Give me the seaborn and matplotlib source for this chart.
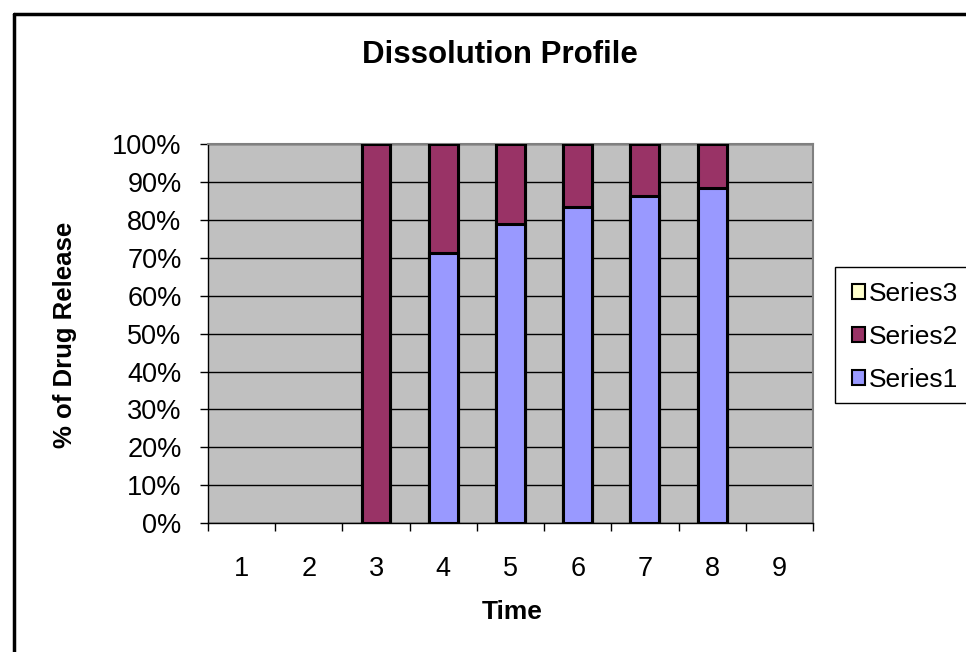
import seaborn as sns
import matplotlib.pyplot as plt
import pandas as pd
from matplotlib.patches import Patch, Rectangle
from matplotlib.lines import Line2D
from matplotlib.ticker import PercentFormatter, FixedLocator

# data (share of each time point)
times = ["1", "2", "3", "4", "5", "6", "7", "8", "9"]
series1 = [0, 0, 0, 0.714, 0.791, 0.835, 0.863, 0.885, 0]
series2 = [0, 0, 1.0, 0.286, 0.209, 0.165, 0.137, 0.115, 0]
series3 = [0, 0, 0, 0, 0, 0, 0, 0, 0]
series_names = ["Series1", "Series2", "Series3"]
colors = ["#9999FF", "#993366", "#FFFFCC"]

sns.set_theme(style="white")
plt.rcParams["font.family"] = ["Liberation Sans", "DejaVu Sans"]
plt.rcParams["text.color"] = "black"
plt.rcParams["axes.labelcolor"] = "black"
plt.rcParams["xtick.color"] = "black"
plt.rcParams["ytick.color"] = "black"

df = pd.DataFrame({"time": times, "s1": series1, "s2": series2, "s3": series3})
df["top3"] = df["s1"] + df["s2"] + df["s3"]
df["top2"] = df["s1"] + df["s2"]

fig = plt.figure(figsize=(9.66, 6.52), dpi=100)
ax = fig.add_axes([0.2153, 0.1979, 0.6263, 0.5805])
ax.set_facecolor("#C0C0C0")

# stacked bars: draw cumulative totals back to front
for col, c in [("top3", colors[2]), ("top2", colors[1]), ("s1", colors[0])]:
    sub = df[df[col] > 0]
    sns.barplot(data=sub, x="time", y=col, order=times, color=c, width=0.43,
                edgecolor="black", linewidth=2.2, saturation=1, ax=ax, zorder=3)

ax.set_ylim(0, 1)
ax.set_xlim(-0.5, 8.5)
ax.yaxis.set_major_locator(FixedLocator([i / 10 for i in range(11)]))
ax.yaxis.set_major_formatter(PercentFormatter(1.0, decimals=0))
ax.grid(axis="y", color="black", linewidth=1, zorder=1)
ax.set_axisbelow(True)

ax.xaxis.set_minor_locator(FixedLocator([i - 0.5 for i in range(10)]))
ax.tick_params(axis="x", which="major", length=0, pad=24, labelsize=19.5)
ax.tick_params(axis="x", which="minor", bottom=True, length=6, width=1, direction="out")
ax.tick_params(axis="y", which="major", left=True, length=6, width=1,
               direction="out", labelsize=19.5, pad=13)

for side in ["left", "bottom"]:
    ax.spines[side].set_color("black")
    ax.spines[side].set_linewidth(1)
for side in ["top", "right"]:
    ax.spines[side].set_color("#808080")
    ax.spines[side].set_linewidth(1.5)

ax.set_xlabel("Time", fontsize=19, fontweight="bold")
ax.xaxis.set_label_coords(0.502, -0.203)
ax.set_ylabel("% of Drug Release", fontsize=18.5, fontweight="bold")
ax.yaxis.set_label_coords(-0.2165, 0.497)
fig.text(0.5176, 0.916, "Dissolution Profile", fontsize=22.5, fontweight="bold",
         ha="center", va="center")

# legend box runs off the right edge, as in the original
fig.add_artist(Rectangle((0.8644, 0.3819), 0.2, 0.2086, transform=fig.transFigure,
                         facecolor="white", edgecolor="black", linewidth=1))
handles = [Patch(facecolor=colors[i], edgecolor="black", linewidth=1.5, label=series_names[i])
           for i in [2, 1, 0]]
leg = fig.legend(handles=handles, loc="upper left", bbox_to_anchor=(0.882, 0.568),
                 fontsize=19, frameon=False, handlelength=0.5, handleheight=0.5,
                 handletextpad=0.12, labelspacing=0.72, borderpad=0, borderaxespad=0)

# chart area frame (runs off the right and bottom edges)
fig.add_artist(Line2D([0.0145, 0.0145], [0, 0.978], color="black", linewidth=2.5,
                      transform=fig.transFigure))
fig.add_artist(Line2D([0.0145, 1.0], [0.978, 0.978], color="black", linewidth=2.5,
                      transform=fig.transFigure))

plt.savefig("out.png", dpi=100)
